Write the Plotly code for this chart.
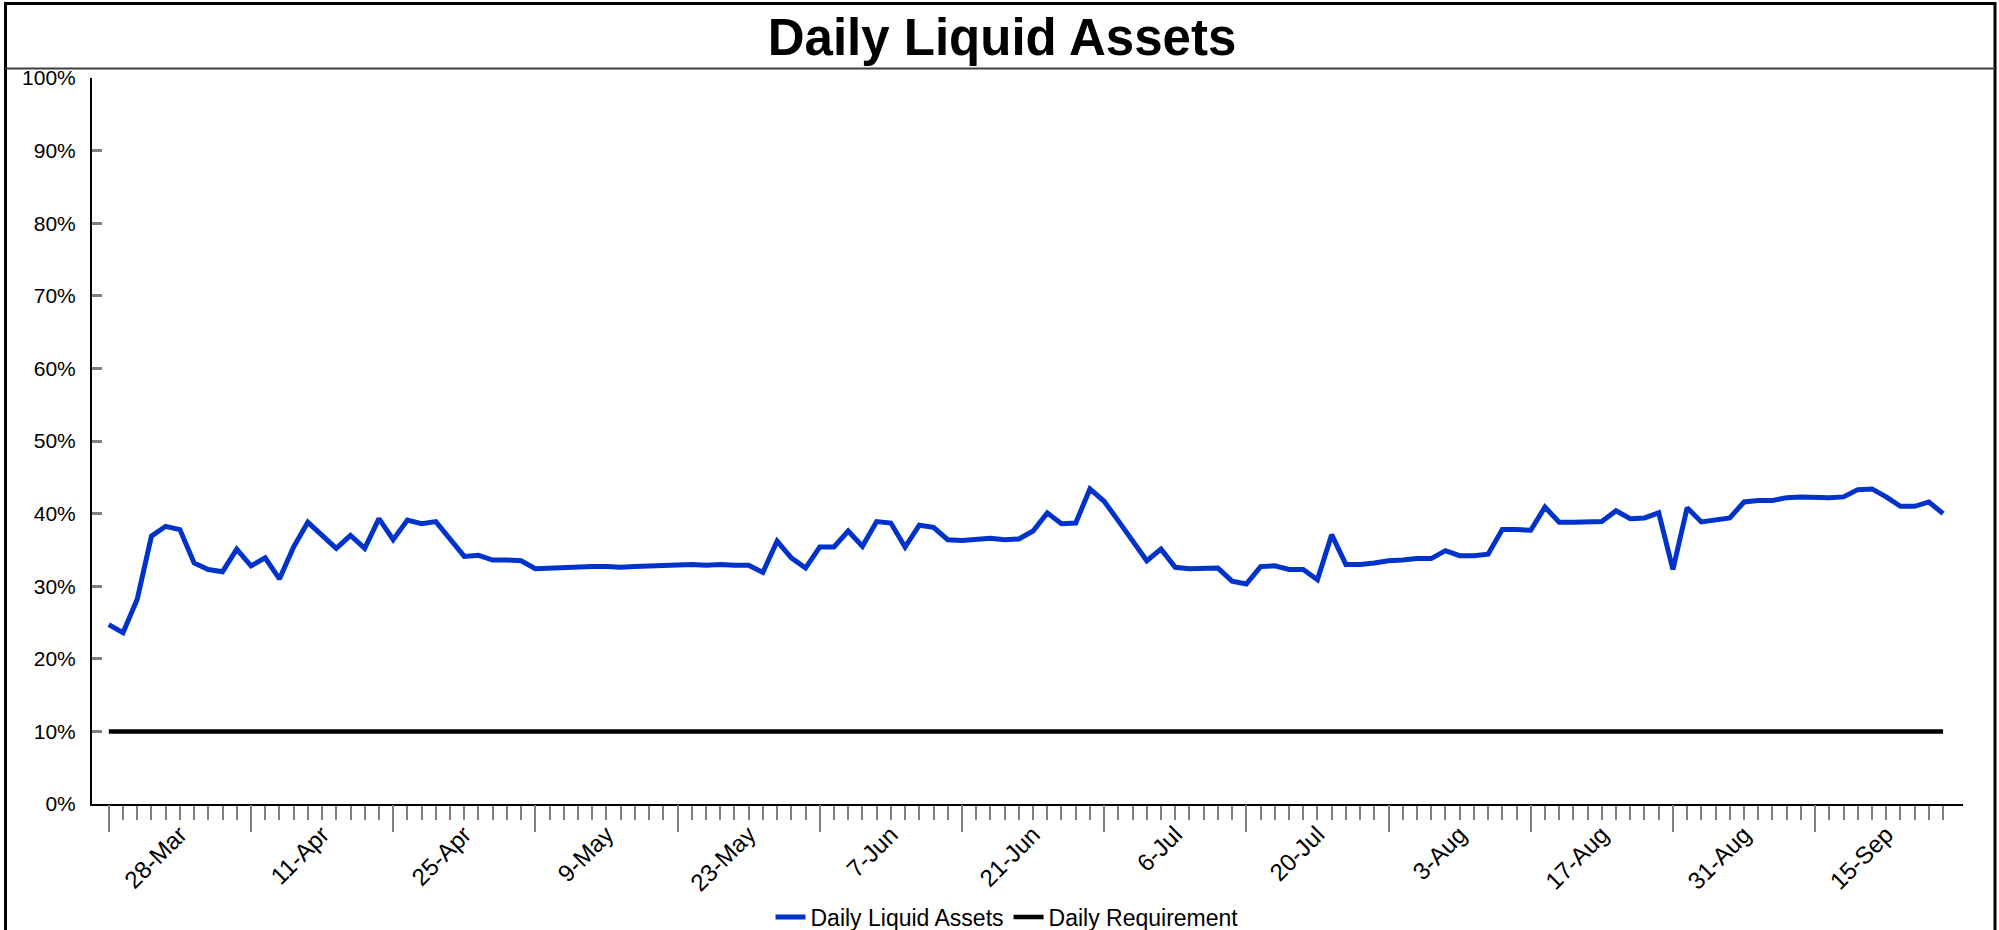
import pandas as pd
import plotly.graph_objects as go

# ---- data ----
start_date = "2011-03-21"
holidays = ["2011-05-30", "2011-07-04", "2011-09-05"]
n_days = 130
dates = [d.strftime("%-d-%b") for d in pd.bdate_range(start_date, periods=n_days, freq="C", holidays=holidays)]

tick_labels = ["28-Mar", "11-Apr", "25-Apr", "9-May", "23-May", "7-Jun", "21-Jun",
               "6-Jul", "20-Jul", "3-Aug", "17-Aug", "31-Aug", "15-Sep"]

daily_liquid_assets = [
    24.7, 23.6, 28.2, 36.9, 38.25, 37.8, 33.2, 32.3, 32.0, 35.1,
    32.8, 33.9, 31.0, 35.4, 38.8, 36.9, 35.2, 37.0, 35.2, 39.3,
    36.4, 39.1, 38.6, 38.9, 36.5, 34.1, 34.25, 33.6, 33.6, 33.5,
    32.4, 32.5, 32.5, 32.6, 32.7, 32.7, 32.6, 32.7, 32.8, 32.8,
    32.9, 33.0, 32.9, 33.0, 32.9, 32.9, 31.9, 36.2, 33.9, 32.5,
    35.4, 35.4, 37.6, 35.5, 38.9, 38.7, 35.4, 38.4, 38.1, 36.4,
    36.3, 36.4, 36.6, 36.4, 36.5, 37.6, 40.1, 38.6, 38.7, 43.4,
    41.7, 39.0, 36.3, 33.5, 35.1, 32.6, 32.4, 32.4, 32.5, 30.7,
    30.3, 32.7, 32.8, 32.3, 32.3, 30.9, 37.1, 33.0, 33.0, 33.2,
    33.5, 33.6, 33.8, 33.8, 34.9, 34.2, 34.2, 34.4, 37.8, 37.8,
    37.7, 40.9, 38.8, 38.8, 38.8, 38.9, 40.4, 39.3, 39.4, 40.1,
    32.3, 40.8, 38.85, 39.1, 39.4, 41.6, 41.8, 41.8, 42.2, 42.3,
    42.2, 42.2, 42.3, 43.3, 43.4, 42.3, 41.0, 41.0, 41.6, 40.0,
]
daily_requirement = [10.0] * len(dates)

y_ticks = list(range(0, 101, 10))

# ---- styling ----
FONT = "Arial, 'Liberation Sans', sans-serif"
TICK_GREY = "#808080"
W, H = 1999, 930
L_M, R_M, T_M, B_M = 92, 36, 78, 126
x_range = [-1.18, 130.4]

major_ticks = dates[::10]
ticktext = [d if d in tick_labels else "" for d in dates]

fig = go.Figure()
fig.add_trace(go.Scatter(
    x=dates, y=daily_liquid_assets, name="Daily Liquid Assets", mode="lines",
    line=dict(color="#0033CC", width=5), xaxis="x", yaxis="y",
))
fig.add_trace(go.Scatter(
    x=dates, y=daily_requirement, name="Daily Requirement", mode="lines",
    line=dict(color="#000000", width=4.5), xaxis="x2", yaxis="y",
))

plot_w = W - L_M - R_M
plot_h = H - T_M - B_M
def px_x(px):
    return (px - L_M) / plot_w
def px_y(py):
    return (H - B_M - py) / plot_h

fig.update_layout(
    width=W, height=H,
    margin=dict(l=L_M, r=R_M, t=T_M, b=B_M, autoexpand=False),
    paper_bgcolor="white", plot_bgcolor="white",
    font=dict(family=FONT, color="black", size=21),
    title=dict(text="<b>Daily Liquid Assets</b>", x=1002 / W, xanchor="center",
               xref="container", y=1 - 37 / H, yref="container", yanchor="middle",
               font=dict(family=FONT, size=51, color="black")),
    showlegend=True,
    legend=dict(orientation="h", x=1007 / W, xref="container", xanchor="center",
                y=1 - 917 / H, yref="container", yanchor="middle",
                font=dict(size=23, family=FONT),
                bgcolor="rgba(0,0,0,0)", traceorder="normal"),
    xaxis=dict(type="category", categoryorder="array", categoryarray=dates,
               range=x_range, tickmode="array", tickvals=dates, ticktext=ticktext,
               ticks="outside", ticklen=14, tickwidth=2, tickcolor=TICK_GREY,
               tickangle=-45, tickfont=dict(size=24, family=FONT),
               ticklabelstandoff=-9,
               showline=True, linecolor="black", linewidth=2,
               showgrid=False, zeroline=False, automargin=False),
    xaxis2=dict(type="category", categoryorder="array", categoryarray=dates,
                range=x_range, overlaying="x", anchor="y", side="bottom",
                tickmode="array", tickvals=major_ticks, showticklabels=False,
                ticks="outside", ticklen=27, tickwidth=2, tickcolor=TICK_GREY,
                showline=False, showgrid=False, zeroline=False, automargin=False),
    yaxis=dict(range=[0, 100], tickmode="array", tickvals=y_ticks,
               ticktext=[f"{v}%" for v in y_ticks],
               ticks="inside", ticklen=10, tickwidth=2.5,
               tickcolor=TICK_GREY, tickfont=dict(size=21, family=FONT),
               ticklabelstandoff=10,
               showline=True, linecolor="black", linewidth=2,
               showgrid=False, zeroline=False, automargin=False),
    shapes=[
        dict(type="rect", xref="paper", yref="paper",
             x0=px_x(5.5), x1=px_x(1995), y0=px_y(945), y1=px_y(3.5),
             line=dict(color="black", width=3), fillcolor="rgba(0,0,0,0)", layer="above"),
        dict(type="line", xref="paper", yref="paper",
             x0=px_x(5.5), x1=px_x(1995), y0=px_y(68.5), y1=px_y(68.5),
             line=dict(color="#404040", width=2)),
    ],
)

fig.write_html("out.html", config={"displayModeBar": False},
               post_script="document.body.style.margin='0';")
